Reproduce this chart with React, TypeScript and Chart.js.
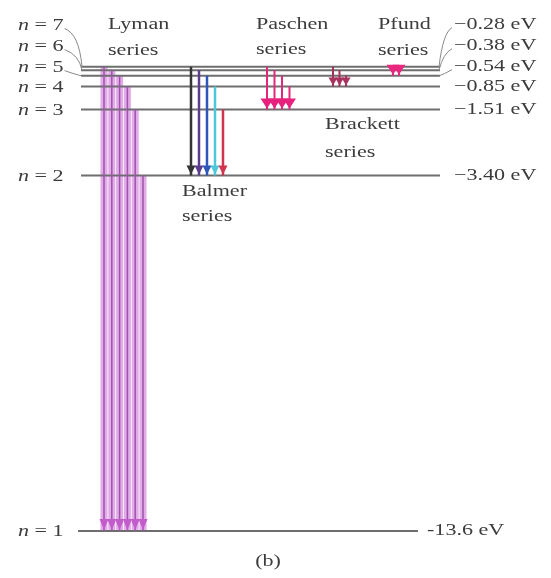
import React, { useEffect, useRef } from 'react';
import { Chart, registerables } from 'chart.js';
Chart.register(...registerables);

// ---------- DATA ----------
const levelN = [1, 2, 3, 4, 5, 6, 7];
const levelEnergy = [-13.6, -3.4, -1.51, -0.85, -0.54, -0.38, -0.28];
const energyLabels = ['-13.6 eV', '−3.40 eV', '−1.51 eV', '−0.85 eV', '−0.54 eV', '−0.38 eV', '−0.28 eV'];
const seriesNames = ['Lyman', 'Balmer', 'Paschen', 'Brackett', 'Pfund'];
const seriesLower = [1, 2, 3, 4, 5];
const lymanUpper = [7, 6, 5, 4, 3, 2];
const balmerUpper = [7, 6, 5, 4, 3];
const paschenUpper = [7, 6, 5, 4];
const brackettUpper = [7, 6, 5];
const pfundUpper = [7, 6];
const seriesUpper = [lymanUpper, balmerUpper, paschenUpper, brackettUpper, pfundUpper];
const captionText = '(b)';

// ---------- LAYOUT / STYLE ----------
const W = 551;
const H = 578;
const PX_PER_EV = 34.85;
const ZERO_PX = 57;
const Y_MAX = ZERO_PX / PX_PER_EV;
const Y_MIN = Y_MAX - H / PX_PER_EV;

const levelStyle = { x0: 81, x1: 440, x1Ground: 418, color: '#6e6e6e', width: 2 };
const seriesStyle = [
  { x0: 104, dx: 7.8, colors: ['#9c55a8'], band: 'rgba(222,155,230,0.85)', width: 1.5, arrow: '#c25ccb', aw: 9, ah: 11, label: [108, 25, 51] },
  { x0: 191, dx: 8, colors: ['#353535', '#5b3d8f', '#2e56ba', '#4cc8da', '#d0344f'], width: 2.5, arrow: null, aw: 9, ah: 9, label: [182, 192, 217] },
  { x0: 267, dx: 7.5, colors: ['#e4267f'], width: 2, arrow: '#e8207e', aw: 13, ah: 10, label: [256, 25, 50] },
  { x0: 333, dx: 6.5, colors: ['#a3315c'], width: 2, arrow: '#a8335f', aw: 9, ah: 8, label: [325, 125, 153] },
  { x0: 393, dx: 6, colors: ['#e4287d'], width: 2, arrow: '#e8287e', aw: 13, ah: 10, label: [378, 25, 51] },
];
const TEXT_COLOR = '#3c3c3c';
const FONT_PX = 16;
const STRETCH = 1.38;

const energyOf = (n: number) => levelEnergy[levelN.indexOf(n)];

function drawStretched(ctx: CanvasRenderingContext2D, text: string, x: number, y: number, font: string) {
  ctx.save();
  ctx.font = font;
  ctx.translate(x, y);
  ctx.scale(STRETCH, 1);
  ctx.fillText(text, 0, 0);
  const w = ctx.measureText(text).width * STRETCH;
  ctx.restore();
  return w;
}

const diagramPlugin = {
  id: 'diagramPlugin',
  beforeDraw(chart: any) {
    const { ctx } = chart;
    ctx.save();
    ctx.fillStyle = '#ffffff';
    ctx.fillRect(0, 0, chart.width, chart.height);
    ctx.restore();
  },
  afterDatasetsDraw(chart: any) {
    const { ctx } = chart;
    const ys = chart.scales.y;
    // arrowheads
    chart.data.datasets.forEach((ds: any, i: number) => {
      if (!ds.arrowColor) return;
      const meta = chart.getDatasetMeta(i);
      const p = meta.data[1];
      if (!p) return;
      const tipY = p.y - 1;
      ctx.save();
      ctx.fillStyle = ds.arrowColor;
      ctx.beginPath();
      ctx.moveTo(p.x, tipY);
      ctx.lineTo(p.x - ds.aw / 2, tipY - ds.ah);
      ctx.lineTo(p.x + ds.aw / 2, tipY - ds.ah);
      ctx.closePath();
      ctx.fill();
      ctx.restore();
    });

    const font = `${FONT_PX}px "Liberation Serif", "Times New Roman", serif`;
    const italic = `italic ${FONT_PX}px "Liberation Serif", "Times New Roman", serif`;
    ctx.save();
    ctx.fillStyle = TEXT_COLOR;
    ctx.textBaseline = 'middle';
    ctx.textAlign = 'left';
    const y4 = ys.getPixelForValue(energyOf(4));
    const labelY = (k: number) => (levelN[k] <= 4 ? ys.getPixelForValue(levelEnergy[k]) + 1 : y4 - 21 * (levelN[k] - 4) + 2);
    levelN.forEach((n, k) => {
      const ly = labelY(k);
      const lineY = ys.getPixelForValue(levelEnergy[k]);
      // left label
      let x = 18;
      x += drawStretched(ctx, 'n', x, ly, italic);
      x += drawStretched(ctx, ' = ' + n, x, ly, font);
      // right label
      const lineEnd = n === 1 ? levelStyle.x1Ground : levelStyle.x1;
      const rx = lineEnd + (n === 1 ? 9 : 14);
      const ry = ly - 1;
      drawStretched(ctx, energyLabels[k], rx, ry, font);
      if (n >= 5) {
        ctx.save();
        ctx.strokeStyle = '#8a8a8a';
        ctx.lineWidth = 1;
        ctx.beginPath();
        ctx.moveTo(x + 1, ly + 3);
        ctx.quadraticCurveTo(levelStyle.x0 - 2, ly + 8, levelStyle.x0 + 1, lineY);
        ctx.stroke();
        ctx.beginPath();
        ctx.moveTo(rx - 2, ry + 3);
        ctx.quadraticCurveTo(levelStyle.x1 + 3, ry + 8, levelStyle.x1 - 1, lineY);
        ctx.stroke();
        ctx.restore();
      }
    });
    seriesNames.forEach((name, s) => {
      const [lx, l1, l2] = seriesStyle[s].label;
      drawStretched(ctx, name, lx, l1, font);
      drawStretched(ctx, 'series', lx, l2, font);
    });
    ctx.font = font;
    const cw = ctx.measureText(captionText).width;
    drawStretched(ctx, captionText, 268 - (cw * STRETCH) / 2, 562, font);
    ctx.restore();
  },
};

function buildDatasets() {
  const datasets: any[] = [];
  // level lines
  levelN.forEach((n, k) => {
    datasets.push({
      data: [
        { x: levelStyle.x0 - (n === 1 ? 3 : 0), y: levelEnergy[k] },
        { x: n === 1 ? levelStyle.x1Ground : levelStyle.x1, y: levelEnergy[k] },
      ],
      borderColor: levelStyle.color,
      borderWidth: levelStyle.width,
      pointRadius: 0,
      showLine: true,
      order: 20,
    });
  });
  // transitions
  seriesUpper.forEach((uppers, s) => {
    const st: any = seriesStyle[s];
    const lower = seriesLower[s];
    uppers.forEach((u, i) => {
      const x = st.x0 + st.dx * i;
      const color = st.colors[i % st.colors.length];
      const pts = [
        { x, y: energyOf(u) },
        { x, y: energyOf(lower) },
      ];
      if (st.band) {
        datasets.push({
          data: pts,
          borderColor: st.band,
          borderWidth: 7,
          pointRadius: 0,
          showLine: true,
          order: 30,
        });
      }
      datasets.push({
        data: pts,
        borderColor: color,
        borderWidth: st.width,
        pointRadius: 0,
        showLine: true,
        order: 10,
        arrowColor: st.arrow || color,
        aw: st.aw,
        ah: st.ah,
      });
    });
  });
  return datasets;
}

export default function App() {
  const ref = useRef<HTMLCanvasElement | null>(null);
  useEffect(() => {
    document.body.style.margin = '0';
    if (!ref.current) return;
    const chart = new Chart(ref.current, {
      type: 'scatter',
      data: { datasets: buildDatasets() },
      options: {
        animation: false,
        responsive: false,
        maintainAspectRatio: false,
        layout: { padding: 0 },
        plugins: { legend: { display: false }, tooltip: { enabled: false }, title: { display: false } },
        scales: {
          x: { type: 'linear', min: 0, max: W, display: false },
          y: { type: 'linear', min: Y_MIN, max: Y_MAX, display: false },
        },
        elements: { line: { tension: 0, borderCapStyle: 'butt' } },
      } as any,
      plugins: [diagramPlugin],
    });
    return () => chart.destroy();
  }, []);
  return (
    <div style={{ width: W, height: H }}>
      <canvas ref={ref} width={W} height={H} style={{ display: 'block' }} />
    </div>
  );
}
